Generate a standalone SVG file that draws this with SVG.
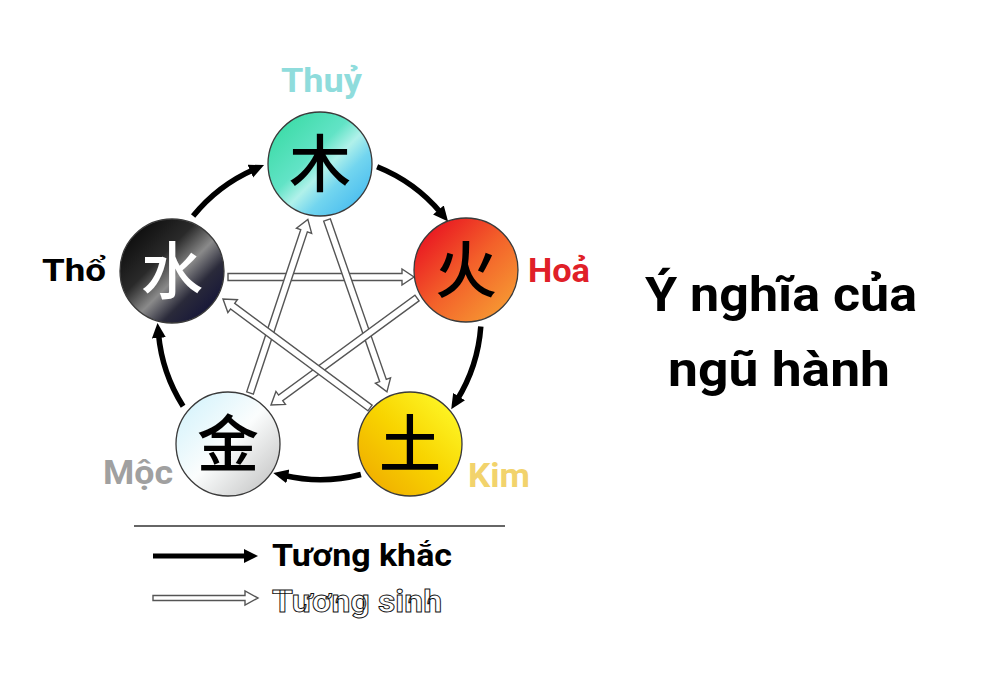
<svg xmlns="http://www.w3.org/2000/svg" width="1000" height="700" viewBox="0 0 1000 700">
<defs>
<style>
.lbl{font-family:Roboto,"Liberation Sans",sans-serif;font-weight:bold;}
.kanji{font-family:"Noto Sans CJK SC","Noto Sans CJK JP",sans-serif;font-size:62px;font-weight:500;text-anchor:middle;}
.ring{stroke:#3a3a3a;stroke-width:1.3;}
.khac{fill:none;stroke:#000;stroke-width:5.5;stroke-linecap:butt;}
.sinh{fill:#fff;stroke:#555;stroke-width:1.4;stroke-linejoin:miter;}
</style>
<marker id="ah" markerUnits="userSpaceOnUse" markerWidth="18" markerHeight="16" refX="4" refY="7" orient="auto">
<path d="M0,0 L15,7 L0,14 Z" fill="#000"/>
</marker>
<linearGradient id="gMoc" x1="0" y1="0" x2="1" y2="1">
<stop offset="0" stop-color="#2fd99c"/>
<stop offset="0.42" stop-color="#62e3c6"/>
<stop offset="0.55" stop-color="#b0f1ea"/>
<stop offset="0.68" stop-color="#72d5ef"/>
<stop offset="1" stop-color="#34b0f0"/>
</linearGradient>
<linearGradient id="gHoa" x1="0" y1="0" x2="1" y2="1">
<stop offset="0" stop-color="#e6001f"/>
<stop offset="0.5" stop-color="#f3602a"/>
<stop offset="1" stop-color="#f7a935"/>
</linearGradient>
<linearGradient id="gThuy" x1="0" y1="0" x2="1" y2="1">
<stop offset="0" stop-color="#000"/>
<stop offset="0.38" stop-color="#2a2a2a"/>
<stop offset="0.55" stop-color="#8a8a8a"/>
<stop offset="0.7" stop-color="#2a2a3a"/>
<stop offset="1" stop-color="#080838"/>
</linearGradient>
<linearGradient id="gKim" x1="0" y1="0" x2="1" y2="1">
<stop offset="0" stop-color="#cdf1fb"/>
<stop offset="0.5" stop-color="#fbfdfd"/>
<stop offset="1" stop-color="#bcbcbc"/>
</linearGradient>
<linearGradient id="gTho" x1="0" y1="1" x2="1" y2="0">
<stop offset="0" stop-color="#eea400"/>
<stop offset="0.5" stop-color="#f8d400"/>
<stop offset="1" stop-color="#ffff30"/>
</linearGradient>
</defs>
<rect width="1000" height="700" fill="#fff"/>

<g id="connectors">
<g id="tuong-khac">
<path class="khac" d="M377.1,166.8 A162,162 0 0 1 441,213" marker-end="url(#ah)"/>
<path class="khac" d="M480.8,326.5 A162,162 0 0 1 457,400" marker-end="url(#ah)"/>
<path class="khac" d="M360.9,474.5 A162,162 0 0 1 284,475.5" marker-end="url(#ah)"/>
<path class="khac" d="M183.1,406.2 A162,162 0 0 1 158.5,334" marker-end="url(#ah)"/>
<path class="khac" d="M193.1,216.1 A162,162 0 0 1 254,169.5" marker-end="url(#ah)"/>
</g>
<g id="tuong-sinh">
<path class="sinh" transform="translate(228,277)" d="M0,-3.5 H174 V-8 L186,0 L174,8 V3.5 H0 Z"/>
<path class="sinh" transform="translate(327,220) rotate(70.77)" d="M0,-3.5 H170 V-8 L182,0 L170,8 V3.5 H0 Z"/>
<path class="sinh" transform="translate(250,393) rotate(-71.57)" d="M0,-3.5 H171 V-8 L183,0 L171,8 V3.5 H0 Z"/>
<path class="sinh" transform="translate(417,298) rotate(143.77)" d="M0,-3.5 H169 V-8 L181,0 L169,8 V3.5 H0 Z"/>
<path class="sinh" transform="translate(370,408) rotate(-143.45)" d="M0,-3.5 H171 V-8 L183,0 L171,8 V3.5 H0 Z"/>
</g>
</g>

<g id="node-moc">
<circle class="ring" cx="320" cy="164" r="52" fill="url(#gMoc)"/>
<text class="kanji" x="320" y="187" fill="#000">木</text>
</g>
<g id="node-hoa">
<circle class="ring" cx="466" cy="270" r="52" fill="url(#gHoa)"/>
<text class="kanji" x="466" y="293" fill="#000">火</text>
</g>
<g id="node-thuy">
<circle class="ring" cx="172" cy="271" r="52" fill="url(#gThuy)"/>
<text class="kanji" x="172" y="294" fill="#fff">水</text>
</g>
<g id="node-kim">
<circle class="ring" cx="228" cy="444" r="52" fill="url(#gKim)"/>
<text class="kanji" x="228" y="467" fill="#000">金</text>
</g>
<g id="node-tho">
<circle class="ring" cx="410" cy="444" r="52" fill="url(#gTho)"/>
<text class="kanji" x="410" y="467" fill="#000">土</text>
</g>

<g id="labels">
<text class="lbl" x="281" y="92" font-size="34" fill="#8fdcdc" textLength="81" lengthAdjust="spacingAndGlyphs">Thuỷ</text>
<text class="lbl" x="42" y="281" font-size="32" fill="#000" textLength="64" lengthAdjust="spacingAndGlyphs">Thổ</text>
<text class="lbl" x="528" y="282" font-size="33" fill="#e02028" textLength="62" lengthAdjust="spacingAndGlyphs">Hoả</text>
<text class="lbl" x="103" y="484" font-size="33" fill="#a0a0a0" textLength="70" lengthAdjust="spacingAndGlyphs">Mộc</text>
<text class="lbl" x="468" y="487" font-size="33" fill="#f2d36c" textLength="62" lengthAdjust="spacingAndGlyphs">Kim</text>
</g>

<g id="title">
<text class="lbl" x="645" y="311" font-size="48" fill="#000" textLength="272" lengthAdjust="spacingAndGlyphs">Ý nghĩa của</text>
<text class="lbl" x="668" y="386" font-size="48" fill="#000" textLength="222" lengthAdjust="spacingAndGlyphs">ngũ hành</text>
</g>

<g id="legend">
<line x1="134" y1="526" x2="505" y2="526" stroke="#333" stroke-width="1.6"/>
<path d="M153,553.5 H244 V549 L258,556 L244,563 V558.5 H153 Z" fill="#000"/>
<text class="lbl" x="272" y="566" font-size="31" fill="#000" textLength="180" lengthAdjust="spacingAndGlyphs">Tương khắc</text>
<path class="sinh" d="M153,595.5 H245 V591 L258,598 L245,605 V600.5 H153 Z"/>
<text class="lbl" x="272" y="612" font-size="31" fill="#fff" stroke="#111" stroke-width="0.9" textLength="170" lengthAdjust="spacingAndGlyphs">Tương sinh</text>
</g>
</svg>
